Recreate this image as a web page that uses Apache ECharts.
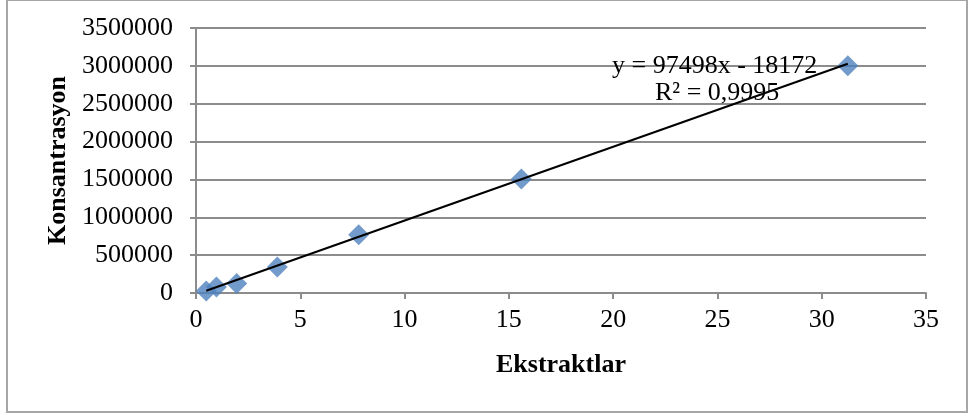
<!DOCTYPE html>
<html>
<head>
<meta charset="utf-8">
<script src="https://cdn.jsdelivr.net/npm/echarts@6/dist/echarts.min.js"></script>
<style>
  html, body { margin: 0; padding: 0; background: #fff; }
  #chart { width: 970px; height: 416px; }
</style>
</head>
<body>
<div id="chart"></div>
<script>
// Ekstrakt miktari (x) ve olculen deger (y)
const ekstraktlar = [0.49, 0.98, 1.95, 3.9, 7.8, 15.6, 31.25]
const konsantrasyon = [25000, 80000, 125000, 345000, 770000, 1505000, 3000000]

// Dogrusal trend cizgisi uc noktalari (y = 97498x - 18172)
const trendX = [0.49, 31.25]
const trendY = [29600, 3028640]

const denklem = 'y = 97498x - 18172'
const r2 = 'R² = 0,9995'

const font = '"Liberation Serif", "Times New Roman", serif'
const gridColor = '#8c8c8c'

const chart = echarts.init(document.getElementById('chart'), null, { renderer: 'canvas' })

chart.setOption({
  animation: false,
  backgroundColor: '#fff',
  grid: { left: 196, right: 44, top: 28, bottom: 123 },
  xAxis: {
    type: 'value',
    min: 0,
    max: 35,
    interval: 5,
    name: 'Ekstraktlar',
    nameLocation: 'middle',
    nameGap: 59,
    nameTextStyle: { fontFamily: font, fontSize: 26, fontWeight: 'bold', color: '#000' },
    axisLine: { show: true, lineStyle: { color: gridColor, width: 2 } },
    axisTick: { show: true, inside: false, length: 6, lineStyle: { color: gridColor, width: 2 } },
    axisLabel: { fontFamily: font, fontSize: 26, color: '#000', margin: 14 },
    splitLine: { show: false },
  },
  yAxis: {
    type: 'value',
    min: 0,
    max: 3500000,
    interval: 500000,
    name: 'Konsantrasyon',
    nameLocation: 'middle',
    nameGap: 124,
    nameRotate: 90,
    nameTextStyle: { fontFamily: font, fontSize: 26, fontWeight: 'bold', color: '#000' },
    axisLine: { show: true, lineStyle: { color: gridColor, width: 2 } },
    axisTick: { show: true, inside: false, length: 6, lineStyle: { color: gridColor, width: 2 } },
    axisLabel: { fontFamily: font, fontSize: 26, color: '#000', margin: 23, formatter: (v) => String(v) },
    splitLine: { show: true, lineStyle: { color: gridColor, width: 2 } },
  },
  series: [
    {
      type: 'line',
      data: trendX.map((x, i) => [x, trendY[i]]),
      symbol: 'none',
      lineStyle: { color: '#000', width: 2 },
      z: 3,
    },
    {
      type: 'scatter',
      data: ekstraktlar.map((x, i) => [x, konsantrasyon[i]]),
      symbol: 'diamond',
      symbolSize: [21, 21],
      itemStyle: { color: '#4f81bd' },
      z: 2,
    },
  ],
  graphic: [
    {
      type: 'rect',
      shape: { x: 7, y: 0, width: 960, height: 412 },
      style: { fill: 'none', stroke: '#a6a6a6', lineWidth: 2 },
      silent: true,
    },
    {
      type: 'text',
      left: 612,
      top: 53,
      style: { text: denklem, font: '26px ' + font, fill: '#000' },
      z: 10,
    },
    {
      type: 'text',
      left: 655,
      top: 80,
      style: { text: r2, font: '26px ' + font, fill: '#000' },
      z: 10,
    },
  ],
})
</script>
</body>
</html>
